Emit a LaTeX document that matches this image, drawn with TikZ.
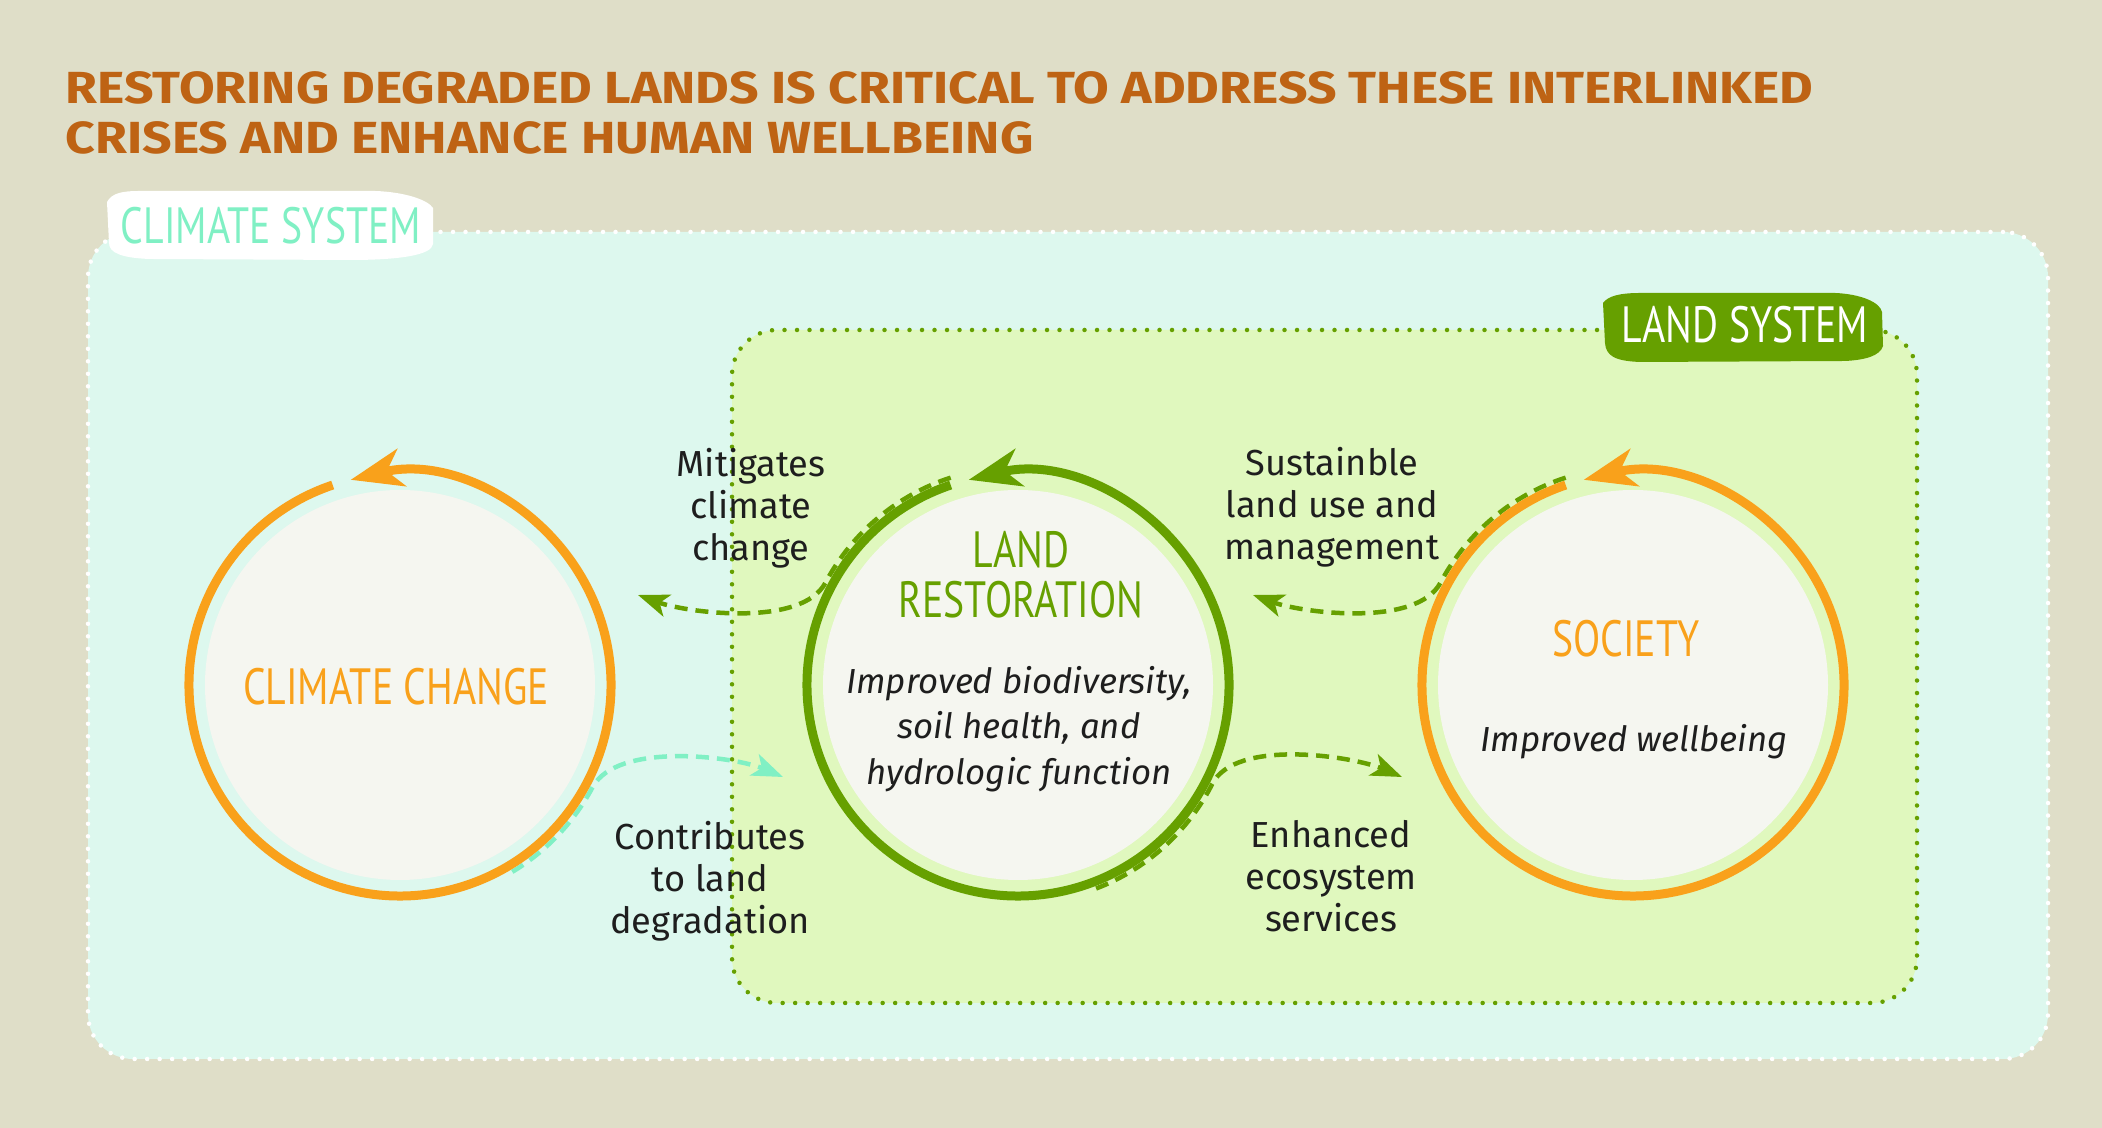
\documentclass[tikz,border=0pt]{standalone}
\usepackage{fontspec}
\setmainfont{Fira Sans}
\newfontfamily\headfont{PT Sans}[FakeStretch=0.78]
\newfontfamily\titlefont{Fira Sans}[FakeStretch=1.15]
\usetikzlibrary{arrows.meta,positioning,calc}

\definecolor{bgbeige}{HTML}{DFDEC8}
\definecolor{climatefill}{HTML}{DDF8EE}
\definecolor{landfill}{HTML}{E0F8BE}
\definecolor{circfill}{HTML}{F5F6F0}
\definecolor{ringorange}{HTML}{F9A11B}
\definecolor{landgreen}{HTML}{66A000}
\definecolor{mintline}{HTML}{80F0C4}
\definecolor{titlebrown}{HTML}{BE6314}
\definecolor{labeltext}{HTML}{1E1E1E}

\begin{document}
\begin{tikzpicture}[
  x=0.1mm, y=0.1mm,
  sysbox/.style={
    rectangle, rounded corners=4.5mm, line width=0.45mm,
    line cap=round, dash pattern=on 0pt off 1.25mm},
  disc/.style={
    circle, fill=circfill, minimum size=39mm, inner sep=0pt},
  ring/.style={
    line width=0.9mm,
    -{Stealth[length=5.2mm, width=3.8mm, inset=1.5mm]}},
  flow/.style={
    line width=0.45mm, dash pattern=on 1.3mm off 0.8mm,
    -{Stealth[length=3.1mm, width=2.3mm, inset=0.8mm]}},
  heading/.style={
    font=\headfont\fontsize{14.5}{17}\selectfont,
    inner sep=0pt, anchor=base},
  blurb/.style={
    font=\itshape\fontsize{9.9}{13}\selectfont,
    text=labeltext, align=center, inner sep=0pt},
  flowlabel/.style={
    font=\fontsize{10.3}{11.95}\selectfont,
    text=labeltext, align=center, inner sep=0pt},
]

  \useasboundingbox (0,0) rectangle (2102,1128);
  \fill[bgbeige] (0,0) rectangle (2102,1128);

  % ── Title ────────────────────────────────────────────────────────────────
  \node[font=\titlefont\bfseries\fontsize{12.8}{14.2}\selectfont,
        text=titlebrown, align=left, anchor=north west, inner sep=0pt]
      (title) at (65,1057)
      {RESTORING DEGRADED LANDS IS CRITICAL TO ADDRESS THESE INTERLINKED\\
       CRISES AND ENHANCE HUMAN WELLBEING};

  % ── System boxes ─────────────────────────────────────────────────────────
  \node[sysbox, draw=white, fill=climatefill,
        minimum width=196mm, minimum height=82.7mm]
      (climatesys) at (1068,482.5) {};
  \node[sysbox, draw=landgreen, fill=landfill,
        minimum width=118.5mm, minimum height=67.3mm]
      (landsys) at (1324.5,461.5) {};

  % hand-drawn label patches
  \fill[white] (107,926) .. controls (112,935) and (122,937) .. (140,937)
      -- (375,937) .. controls (405,936) and (428,928) .. (433,920)
      -- (433,884) .. controls (432,873) and (400,868) .. (350,868)
      -- (150,869) .. controls (122,870) and (109,875) .. (109,885) -- cycle;
  \fill[landgreen] (1603,825) .. controls (1608,832) and (1620,835) .. (1640,835)
      -- (1835,835) .. controls (1860,834) and (1880,826) .. (1882,816)
      -- (1883,782) .. controls (1880,772) and (1865,768) .. (1845,767)
      -- (1640,766) .. controls (1615,767) and (1606,772) .. (1605,785) -- cycle;

  \node[heading, text=mintline] (climatelbl) at (271,884) {CLIMATE SYSTEM};
  \node[heading, text=white]    (landlbl)    at (1745,785) {LAND SYSTEM};

  % ── Discs ────────────────────────────────────────────────────────────────
  \node[disc] (climate) at (400,443)  {};
  \node[disc] (landres) at (1018,443) {};
  \node[disc] (society) at (1633,443) {};

  % ── Dashed links (drawn under the rings) ────────────────────────────────
  \coordinate (mittip) at (638,533);
  \coordinate (sustip) at (1253,533);
  \coordinate (contip) at (783,351);
  \coordinate (enhtip) at (1402,351);

  \draw[flow, landgreen] ($(landres.center)+(108:21.8mm)$)
      arc[start angle=108, end angle=152, radius=21.8mm]
      to[out=242, in=-20, looseness=0.7] (mittip);
  \draw[flow, landgreen] ($(society.center)+(108:21.8mm)$)
      arc[start angle=108, end angle=152, radius=21.8mm]
      to[out=242, in=-20, looseness=0.7] (sustip);
  \draw[flow, mintline] ($(climate.center)+(-59:21.8mm)$)
      arc[start angle=-59, end angle=-28, radius=21.8mm]
      to[out=62, in=157, looseness=0.7] (contip);
  \draw[flow, landgreen] ($(landres.center)+(-69:21.8mm)$)
      arc[start angle=-69, end angle=-27, radius=21.8mm]
      to[out=63, in=157, looseness=0.7] (enhtip);

  % ── Cycle rings ─────────────────────────────────────────────────────────
  \draw[ring, ringorange] ($(climate.center)+(108.6:21.1mm)$)
      arc[start angle=108.6, end angle=463.5, radius=21.1mm];
  \draw[ring, landgreen] ($(landres.center)+(108.6:21.1mm)$)
      arc[start angle=108.6, end angle=463.5, radius=21.1mm];
  \draw[ring, ringorange] ($(society.center)+(108.6:21.1mm)$)
      arc[start angle=108.6, end angle=463.5, radius=21.1mm];

  % ── Disc texts ──────────────────────────────────────────────────────────
  \node[heading, text=ringorange] (cctext)   at (396,423)  {CLIMATE CHANGE};
  \node[heading, text=landgreen]  (landhead) at (1021,560) {LAND};
  \node[heading, text=landgreen]  (landsub)  at (1021,510) {RESTORATION};
  \node[blurb] (landtext) at (1019,399)
      {Improved biodiversity,\\soil health, and\\hydrologic function};
  \node[heading, text=ringorange] (soctext)  at (1626,471) {SOCIETY};
  \node[blurb, anchor=base] (soctextb) at (1634,376) {Improved wellbeing};

  % ── Link labels ─────────────────────────────────────────────────────────
  \node[flowlabel] (mitlbl) at (751,620)  {Mitigates\\climate\\change};
  \node[flowlabel] (suslbl) at (1332,621) {Sustainble\\land use and\\management};
  \node[flowlabel] (conlbl) at (710,247)  {Contributes\\to land\\degradation};
  \node[flowlabel] (enhlbl) at (1331,252) {Enhanced\\ecosystem\\services};

\end{tikzpicture}
\end{document}
